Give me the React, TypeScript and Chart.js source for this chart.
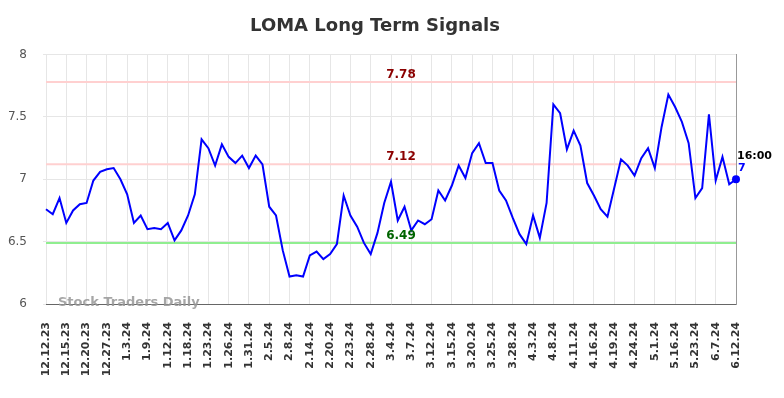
import React, { useEffect, useRef } from "react";
import { Chart, registerables } from "chart.js";

Chart.register(...registerables);

const dates: string[] = [
  "12.12.23", "12.13.23", "12.14.23", "12.15.23", "12.18.23", "12.19.23", "12.20.23", "12.21.23", "12.22.23",
  "12.27.23", "12.28.23", "12.29.23", "1.3.24", "1.4.24", "1.8.24", "1.9.24", "1.10.24", "1.11.24",
  "1.12.24", "1.16.24", "1.17.24", "1.18.24", "1.19.24", "1.22.24", "1.23.24", "1.24.24", "1.25.24",
  "1.26.24", "1.29.24", "1.30.24", "1.31.24", "2.1.24", "2.2.24", "2.5.24", "2.6.24", "2.7.24",
  "2.8.24", "2.9.24", "2.13.24", "2.14.24", "2.15.24", "2.16.24", "2.20.24", "2.21.24", "2.22.24",
  "2.23.24", "2.26.24", "2.27.24", "2.28.24", "2.29.24", "3.1.24", "3.4.24", "3.5.24", "3.6.24",
  "3.7.24", "3.8.24", "3.11.24", "3.12.24", "3.13.24", "3.14.24", "3.15.24", "3.18.24", "3.19.24",
  "3.20.24", "3.21.24", "3.22.24", "3.25.24", "3.26.24", "3.27.24", "3.28.24", "4.1.24", "4.2.24",
  "4.3.24", "4.4.24", "4.5.24", "4.8.24", "4.9.24", "4.10.24", "4.11.24", "4.12.24", "4.15.24",
  "4.16.24", "4.17.24", "4.18.24", "4.19.24", "4.22.24", "4.23.24", "4.24.24", "4.25.24", "4.26.24",
  "5.1.24", "5.6.24", "5.10.24", "5.16.24", "5.17.24", "5.20.24", "5.23.24", "5.28.24", "6.3.24",
  "6.7.24", "6.10.24", "6.11.24", "6.12.24",
];

const prices: number[] = [
  6.76, 6.72, 6.85, 6.65, 6.75, 6.80, 6.81, 6.99, 7.06,
  7.08, 7.09, 7.00, 6.88, 6.65, 6.71, 6.60, 6.61, 6.60,
  6.65, 6.51, 6.59, 6.71, 6.88, 7.32, 7.25, 7.11, 7.28,
  7.18, 7.13, 7.19, 7.09, 7.19, 7.12, 6.78, 6.71, 6.43,
  6.22, 6.23, 6.22, 6.39, 6.42, 6.36, 6.40, 6.48, 6.87,
  6.71, 6.62, 6.49, 6.40, 6.57, 6.81, 6.98, 6.67, 6.78,
  6.59, 6.67, 6.64, 6.68, 6.91, 6.83, 6.95, 7.11, 7.01,
  7.21, 7.29, 7.13, 7.13, 6.91, 6.83, 6.69, 6.56, 6.48,
  6.71, 6.53, 6.81, 7.60, 7.53, 7.24, 7.39, 7.27, 6.97,
  6.87, 6.76, 6.70, 6.93, 7.16, 7.11, 7.03, 7.17, 7.25,
  7.09, 7.42, 7.68, 7.58, 7.46, 7.29, 6.85, 6.93, 7.52,
  6.99, 7.18, 6.96, 7.00,
];

const signalValues: number[] = [7.78, 7.12, 6.49];
const signalLabels: string[] = ["7.78", "7.12", "6.49"];
const signalLineColors: string[] = ["#ffd0d0", "#ffd0d0", "#90ee90"];
const signalTextColors: string[] = ["#8b0000", "#8b0000", "#006400"];

const lastTimeLabel = "16:00";
const lastValueLabel = "7";

const overlayPlugin = {
  id: "overlay",
  beforeDatasetsDraw(chart: any) {
    const { ctx, chartArea, scales } = chart;
    ctx.save();
    signalValues.forEach((v, i) => {
      const y = scales.y.getPixelForValue(v);
      ctx.strokeStyle = signalLineColors[i];
      ctx.lineWidth = 2;
      ctx.beginPath();
      ctx.moveTo(chartArea.left, y);
      ctx.lineTo(chartArea.right, y);
      ctx.stroke();
    });
    ctx.restore();
  },
  afterDatasetsDraw(chart: any) {
    const { ctx, chartArea, scales } = chart;
    ctx.save();
    const cx = (chartArea.left + chartArea.right) / 2 + 10;
    ctx.font = "bold 12px 'DejaVu Sans'";
    ctx.textAlign = "center";
    ctx.textBaseline = "bottom";
    signalValues.forEach((v, i) => {
      const y = scales.y.getPixelForValue(v);
      ctx.fillStyle = signalTextColors[i];
      ctx.fillText(signalLabels[i], cx, y - 1);
    });
    const li = prices.length - 1;
    const px = scales.x.getPixelForValue(li);
    const py = scales.y.getPixelForValue(prices[li]);
    ctx.textAlign = "left";
    ctx.textBaseline = "middle";
    ctx.font = "bold 11px 'DejaVu Sans'";
    ctx.fillStyle = "#000";
    ctx.fillText(lastTimeLabel, px + 1, py - 23);
    ctx.fillStyle = "#0000ff";
    ctx.fillText(lastValueLabel, px + 2, py - 11);
    ctx.restore();
  },
  afterDraw(chart: any) {
    const { ctx, chartArea } = chart;
    ctx.save();
    ctx.font = "bold 13px 'DejaVu Sans'";
    ctx.fillStyle = "rgba(150,150,150,0.85)";
    ctx.textAlign = "left";
    ctx.textBaseline = "middle";
    ctx.fillText("Stock Traders Daily", chartArea.left + 12, chartArea.bottom - 1);
    ctx.restore();
  },
};

export default function App() {
  const ref = useRef<HTMLCanvasElement | null>(null);

  useEffect(() => {
    document.body.style.margin = "0";
    if (!ref.current) return;
    const chart = new Chart(ref.current, {
      type: "line",
      data: {
        labels: dates,
        datasets: [
          {
            data: prices,
            borderColor: "#0000ff",
            backgroundColor: "#0000ff",
            borderWidth: 2,
            tension: 0,
            pointRadius: (c: any) => (c.dataIndex === prices.length - 1 ? 4 : 0),
            pointHoverRadius: 0,
            pointBackgroundColor: "#0000ff",
            pointBorderWidth: 0,
          },
        ],
      },
      options: {
        animation: false,
        responsive: false,
        events: [],
        layout: { padding: { left: 0, right: 34, top: 0, bottom: 0 } },
        plugins: {
          legend: { display: false },
          tooltip: { enabled: false },
          title: {
            display: true,
            text: "LOMA Long Term Signals",
            color: "#333333",
            font: { size: 18, weight: "bold", family: "'DejaVu Sans'" },
            padding: { top: 16, bottom: 17 },
          },
        },
        scales: {
          x: {
            type: "category",
            offset: false,
            afterFit: (axis: any) => {
              axis.height = 94;
            },
            grid: {
              display: true,
              color: "#e6e6e6",
              lineWidth: 1,
              drawTicks: false,
            },
            border: { display: true, color: "#666666", width: 1 },
            ticks: {
              autoSkip: false,
              minRotation: 90,
              maxRotation: 90,
              padding: 18,
              color: "#333333",
              font: { size: 11, weight: "bold", family: "'DejaVu Sans'" },
              callback: (_v: any, idx: number) => (idx % 3 === 0 ? dates[idx] : null),
            },
          },
          y: {
            position: "left",
            min: 6,
            max: 8,
            afterFit: (axis: any) => {
              axis.width = 46;
            },
            grid: { color: "#e6e6e6", lineWidth: 1, tickLength: 3 },
            border: { display: false },
            ticks: {
              stepSize: 0.5,
              padding: 16,
              color: "#555555",
              font: { size: 12, family: "'DejaVu Sans'" },
              callback: (v: any) => String(Number(v)),
            },
          },
          y2: {
            position: "right",
            display: true,
            afterFit: (axis: any) => {
              axis.width = 14;
            },
            grid: { display: false, drawTicks: false },
            border: { display: true, color: "#999999", width: 1 },
            ticks: { display: false },
          },
        },
      } as any,
      plugins: [overlayPlugin],
    });
    return () => chart.destroy();
  }, []);

  return (
    <div style={{ width: 784, height: 398 }}>
      <canvas ref={ref} width={784} height={398} style={{ display: "block" }} />
    </div>
  );
}
